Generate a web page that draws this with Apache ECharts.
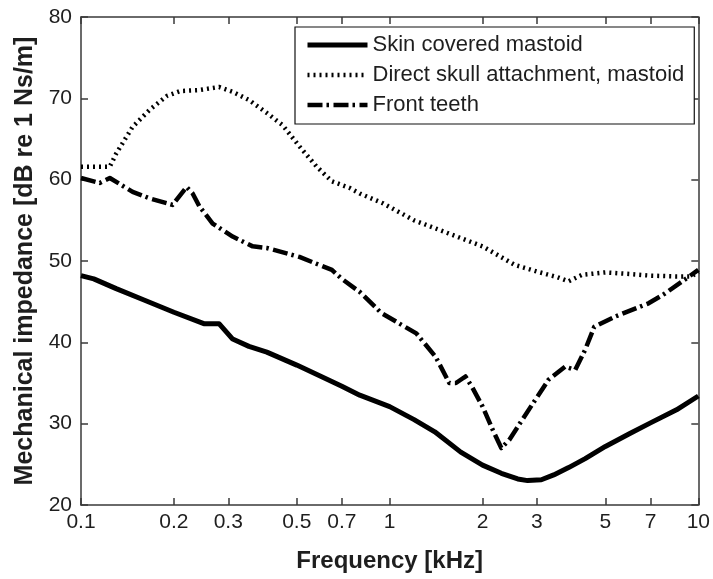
<!DOCTYPE html>
<html>
<head>
<meta charset="utf-8">
<script src="https://cdn.jsdelivr.net/npm/echarts@6/dist/echarts.min.js"></script>
<style>
html,body{margin:0;padding:0;background:#fff;}
#c{width:713px;height:579px;}
</style>
</head>
<body>
<div id="c"></div>
<script>
var xTicks = [0.1, 0.2, 0.3, 0.5, 0.7, 1, 2, 3, 5, 7, 10];
var yTicks = [20, 30, 40, 50, 60, 70, 80];

var skinFreq = [0.1, 0.11, 0.13, 0.16, 0.2, 0.25, 0.28, 0.31, 0.35, 0.4, 0.5, 0.6, 0.7, 0.8, 1.0, 1.2, 1.4, 1.7, 2.0, 2.3, 2.6, 2.8, 3.1, 3.4, 3.8, 4.3, 5.0, 6.0, 7.0, 8.5, 10];
var skinVals = [48.2, 47.8, 46.6, 45.2, 43.7, 42.3, 42.3, 40.4, 39.5, 38.8, 37.2, 35.8, 34.6, 33.5, 32.1, 30.5, 29.0, 26.5, 24.9, 23.9, 23.2, 23.0, 23.1, 23.7, 24.6, 25.7, 27.2, 28.8, 30.1, 31.7, 33.4];

var skullFreq = [0.1, 0.124, 0.13, 0.147, 0.167, 0.19, 0.21, 0.24, 0.28, 0.31, 0.35, 0.4, 0.45, 0.51, 0.58, 0.65, 0.74, 0.8, 0.95, 1.2, 1.55, 2.0, 2.55, 3.0, 3.5, 3.8, 4.2, 5.0, 6.0, 7.0, 8.5, 9.5, 10];
var skullVals = [61.6, 61.6, 63.2, 66.5, 68.6, 70.3, 70.9, 71.0, 71.4, 70.8, 69.8, 68.2, 66.7, 64.1, 61.6, 59.8, 59.0, 58.3, 57.1, 55.0, 53.4, 51.8, 49.5, 48.7, 48.0, 47.5, 48.3, 48.6, 48.4, 48.2, 48.1, 48.1, 48.7];

var teethFreq = [0.1, 0.115, 0.124, 0.147, 0.167, 0.198, 0.22, 0.23, 0.242, 0.267, 0.31, 0.36, 0.4, 0.51, 0.65, 0.7, 0.8, 0.94, 1.22, 1.41, 1.56, 1.64, 1.76, 1.85, 2.0, 2.16, 2.3, 2.44, 2.68, 2.96, 3.27, 3.7, 3.99, 4.3, 4.6, 5.4, 6.9, 7.8, 10];
var teethVals = [60.2, 59.6, 60.2, 58.5, 57.7, 56.9, 59.1, 58.3, 56.7, 54.6, 53.0, 51.8, 51.6, 50.5, 48.9, 47.8, 46.2, 43.6, 41.1, 38.2, 35.0, 35.0, 35.8, 34.5, 32.1, 29.2, 27.0, 28.0, 30.4, 32.9, 35.4, 37.0, 36.6, 39.1, 41.9, 43.2, 44.8, 46.0, 48.9];

var seriesNames = ['Skin covered mastoid', 'Direct skull attachment, mastoid', 'Front teeth'];

function pairs(xs, ys) { return xs.map(function (x, i) { return [x, ys[i]]; }); }

var FONT = '"Liberation Sans", Arial, sans-serif';
var AX = '#3a3a3a';
var TXT = '#1e1e1e';

var styles = [
  { color: '#000', width: 5, type: 'solid' },
  { color: '#000', width: 4.5, type: [2, 4] },
  { color: '#000', width: 4.5, type: [15, 4, 2.5, 4.5] }
];

var chart = echarts.init(document.getElementById('c'), null, { renderer: 'canvas' });

function xAxisCfg(pos, labels) {
  return {
    type: 'log', logBase: 10, min: 0.1, max: 10, position: pos,
    axisLine: { show: true, onZero: false, lineStyle: { color: AX, width: 1.5 } },
    axisTick: { show: true, inside: true, length: 7, customValues: xTicks, lineStyle: { color: AX, width: 1.5 } },
    minorTick: { show: false },
    splitLine: { show: false },
    axisLabel: {
      show: labels, customValues: xTicks, margin: 7, color: TXT, fontSize: 21, fontFamily: FONT,
      formatter: function (v) { return String(+v.toPrecision(3)); }
    },
    name: labels ? 'Frequency [kHz]' : '',
    nameLocation: 'middle', nameGap: 44,
    nameTextStyle: { color: TXT, fontSize: 24, fontWeight: 'bold', fontFamily: FONT }
  };
}
function yAxisCfg(pos, labels) {
  return {
    type: 'value', min: 20, max: 80, interval: 10, position: pos,
    axisLine: { show: true, onZero: false, lineStyle: { color: AX, width: 1.5 } },
    axisTick: { show: true, inside: true, length: 7, lineStyle: { color: AX, width: 1.5 } },
    splitLine: { show: false },
    axisLabel: { show: labels, margin: 9, color: TXT, fontSize: 21, fontFamily: FONT },
    name: labels ? 'Mechanical impedance [dB re 1 Ns/m]' : '',
    nameLocation: 'middle', nameGap: 40,
    nameTextStyle: { color: TXT, fontSize: 25, fontWeight: 'bold', fontFamily: FONT }
  };
}

var dataSets = [pairs(skinFreq, skinVals), pairs(skullFreq, skullVals), pairs(teethFreq, teethVals)];

var option = {
  backgroundColor: '#fff',
  animation: false,
  grid: { left: 81, right: 13, top: 17, bottom: 74, containLabel: false },
  xAxis: [xAxisCfg('bottom', true), xAxisCfg('top', false)],
  yAxis: [yAxisCfg('left', true), yAxisCfg('right', false)],
  legend: {
    orient: 'vertical', left: 295, top: 27,
    padding: [7, 10, 8, 10],
    itemGap: 8, itemWidth: 60, itemHeight: 16,
    backgroundColor: '#fff', borderColor: '#111', borderWidth: 1.2, borderRadius: 0,
    textStyle: { color: TXT, fontSize: 22, fontFamily: FONT },
    data: seriesNames.map(function (n, i) {
      return {
        name: n,
        itemStyle: { color: 'rgba(0,0,0,0)', borderColor: 'rgba(0,0,0,0)', borderWidth: 0 },
        lineStyle: { width: styles[i].width, type: styles[i].type, color: '#000' }
      };
    })
  },
  series: seriesNames.map(function (n, i) {
    return {
      name: n, type: 'line', xAxisIndex: 0, yAxisIndex: 0,
      data: dataSets[i], showSymbol: false, symbol: 'none', smooth: false,
      lineStyle: { color: styles[i].color, width: styles[i].width, type: styles[i].type, cap: 'butt', join: 'round' },
      itemStyle: { color: '#000' },
      z: 3 - i
    };
  })
};
chart.setOption(option);
</script>
</body>
</html>
